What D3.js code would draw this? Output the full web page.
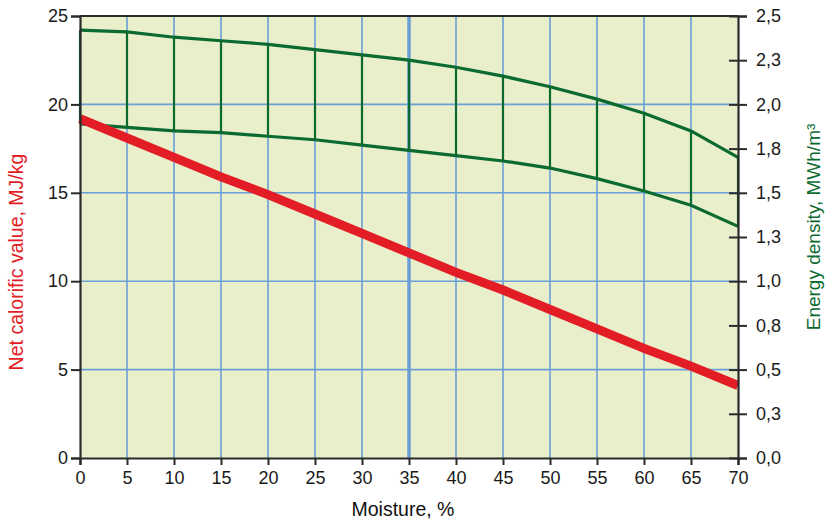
<!DOCTYPE html>
<html>
<head>
<meta charset="utf-8">
<script src="https://cdn.jsdelivr.net/npm/d3@7"></script>
<style>
  body { margin: 0; background: #fff; }
  text { font-family: "Liberation Sans", Arial, sans-serif; }
</style>
</head>
<body>
<svg id="chart" width="825" height="524"></svg>
<script>
// Data
const moisture = [0, 5, 10, 15, 20, 25, 30, 35, 40, 45, 50, 55, 60, 65, 70];
const calorific = [19.2, 18.1, 17.0, 15.9, 14.9, 13.8, 12.7, 11.6, 10.5, 9.5, 8.4, 7.3, 6.2, 5.2, 4.1];
const densityHigh = [2.42, 2.41, 2.38, 2.36, 2.34, 2.31, 2.28, 2.25, 2.21, 2.16, 2.10, 2.03, 1.95, 1.85, 1.70];
const densityLow = [1.89, 1.87, 1.85, 1.84, 1.82, 1.80, 1.77, 1.74, 1.71, 1.68, 1.64, 1.58, 1.51, 1.43, 1.31];
const leftTicks = [0, 5, 10, 15, 20, 25];
const rightTicks = [0, 0.25, 0.5, 0.75, 1.0, 1.25, 1.5, 1.75, 2.0, 2.25, 2.5];
const rightLabels = ["0,0", "0,3", "0,5", "0,8", "1,0", "1,3", "1,5", "1,8", "2,0", "2,3", "2,5"];

const svg = d3.select("#chart");
const margin = { left: 80, right: 87, top: 16, bottom: 66 };
const width = +svg.attr("width");
const height = +svg.attr("height");

const x = d3.scaleLinear().domain([0, 70]).range([margin.left, width - margin.right]);
const y = d3.scaleLinear().domain([0, 25]).range([height - margin.bottom, margin.top]);
const y2 = d3.scaleLinear().domain([0, 2.5]).range([height - margin.bottom, margin.top]);

// Plot background
svg.append("rect")
    .attr("x", x(0)).attr("y", y(25))
    .attr("width", x(70) - x(0)).attr("height", y(0) - y(25))
    .attr("fill", "#e9efca");

// Grid
const grid = svg.append("g");
grid.selectAll(".vgrid")
    .data(moisture.slice(1, -1))
    .enter().append("line")
    .attr("x1", d => x(d)).attr("x2", d => x(d))
    .attr("y1", y(0)).attr("y2", y(25))
    .attr("stroke", "#6b9fd6")
    .attr("stroke-width", d => d === 35 ? 3.5 : 1.6);
grid.selectAll(".hgrid")
    .data(leftTicks.slice(1, -1))
    .enter().append("line")
    .attr("x1", x(0)).attr("x2", x(70))
    .attr("y1", d => y(d)).attr("y2", d => y(d))
    .attr("stroke", "#6b9fd6")
    .attr("stroke-width", 1.6);

// Energy density band
const green = "#0b6a30";
const rows = moisture.map((m, i) => ({ m: m, hi: densityHigh[i], lo: densityLow[i] }));
svg.append("g").selectAll("line")
    .data(rows)
    .enter().append("line")
    .attr("x1", d => x(d.m)).attr("x2", d => x(d.m))
    .attr("y1", d => y2(d.hi)).attr("y2", d => y2(d.lo))
    .attr("stroke", green)
    .attr("stroke-width", 2.2);

const lineHi = d3.line().x(d => x(d.m)).y(d => y2(d.hi));
const lineLo = d3.line().x(d => x(d.m)).y(d => y2(d.lo));
svg.append("path").datum(rows).attr("d", lineHi)
    .attr("fill", "none").attr("stroke", green).attr("stroke-width", 3.2);
svg.append("path").datum(rows).attr("d", lineLo)
    .attr("fill", "none").attr("stroke", green).attr("stroke-width", 3.2);

// Net calorific value line
const redLine = d3.line().x((d, i) => x(moisture[i])).y(d => y(d));
svg.append("path").datum(calorific).attr("d", redLine)
    .attr("fill", "none").attr("stroke", "#e31d25").attr("stroke-width", 9);

// Axes
const axisColor = "#2b2b2b";
const xAxis = svg.append("g")
    .attr("transform", `translate(0,${y(0)})`)
    .call(d3.axisBottom(x).tickValues(moisture).tickSize(7).tickPadding(3));
const leftAxis = svg.append("g")
    .attr("transform", `translate(${x(0)},0)`)
    .call(d3.axisLeft(y).tickValues(leftTicks).tickSize(9).tickPadding(3));
const rightAxis = svg.append("g")
    .attr("transform", `translate(${x(70)},0)`)
    .call(d3.axisRight(y2).tickValues(rightTicks)
        .tickFormat((d, i) => rightLabels[i]).tickSize(9).tickPadding(9));
rightAxis.selectAll(".tick line").attr("x1", -9);

[xAxis, leftAxis, rightAxis].forEach(g => {
    g.select(".domain").attr("stroke", axisColor).attr("stroke-width", 2.2);
    g.selectAll(".tick line").attr("stroke", axisColor).attr("stroke-width", 2);
    g.selectAll(".tick text")
        .attr("fill", "#1a1a1a")
        .style("font-size", "18px")
        .style("font-family", "'Liberation Sans', Arial, sans-serif");
});
xAxis.selectAll(".tick text").attr("dy", "0.9em");

// Top border
svg.append("line")
    .attr("x1", x(0)).attr("x2", x(70))
    .attr("y1", y(25)).attr("y2", y(25))
    .attr("stroke", axisColor).attr("stroke-width", 2.2);

// Axis titles
svg.append("text")
    .attr("x", (x(0) + x(70)) / 2 - 6).attr("y", 516)
    .attr("text-anchor", "middle")
    .attr("fill", "#111")
    .style("font-size", "19.5px")
    .text("Moisture, %");

svg.append("text")
    .attr("transform", "translate(23,262) rotate(-90)")
    .attr("text-anchor", "middle")
    .attr("fill", "#e31d25")
    .style("font-size", "19.5px")
    .text("Net calorific value, MJ/kg");

svg.append("text")
    .attr("transform", "translate(820,227) rotate(-90)")
    .attr("text-anchor", "middle")
    .attr("fill", green)
    .style("font-size", "19px")
    .text("Energy density, MWh/m³");
</script>
</body>
</html>
